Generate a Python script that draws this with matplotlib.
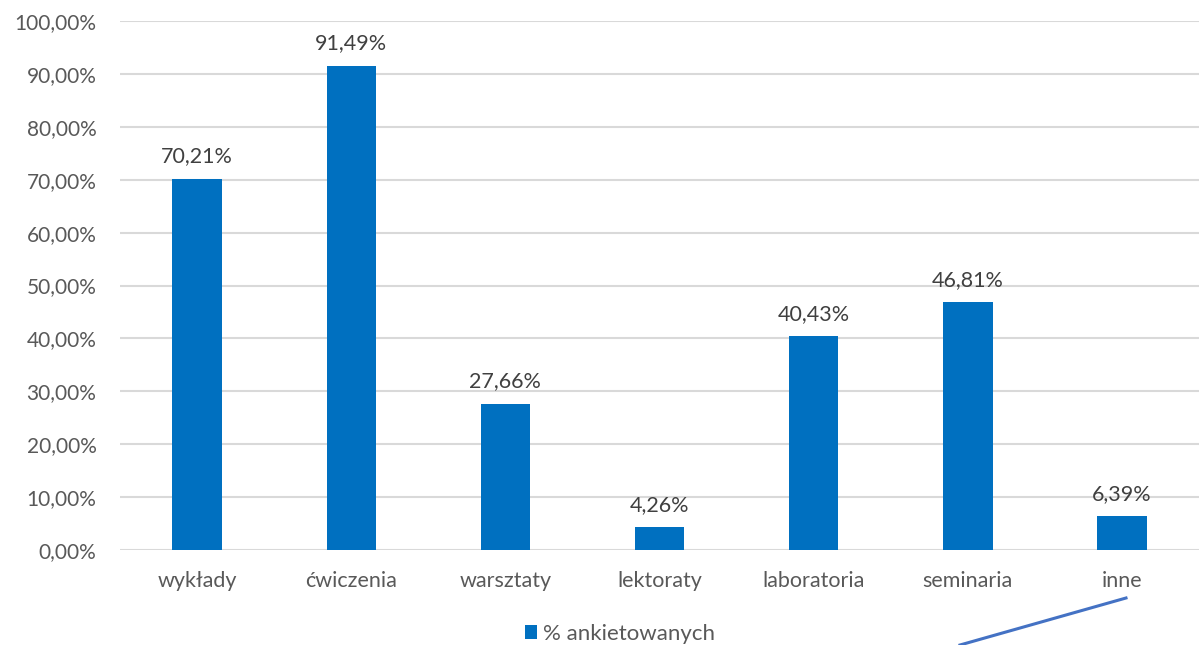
from matplotlib import pyplot as plt
from matplotlib.lines import Line2D
import numpy as np

kategorie = ['wykłady', 'ćwiczenia', 'warsztaty', 'lektoraty', 'laboratoria', 'seminaria', 'inne']
procent = [70.21, 91.49, 27.66, 4.26, 40.43, 46.81, 6.39]
yticks = np.arange(0, 101, 10)

plt.rcParams['font.family'] = ['Lato', 'DejaVu Sans']
tekst = '#595959'
niebieski = '#0070C0'

fig = plt.figure(figsize=(11.99, 6.45), dpi=100)
ax = fig.add_axes([0.1001, 0.1473, 0.9, 0.8201])

x = np.arange(len(kategorie))
bars = ax.bar(x, procent, width=0.32, color=niebieski, label='% ankietowanych', zorder=3)

for xi, v in zip(x, procent):
    ax.annotate(f'{v:.2f}%'.replace('.', ','), (xi, v), xytext=(0, 9),
                textcoords='offset points', ha='center', va='bottom',
                fontsize=15.5, color='#404040')

ax.set_xlim(-0.5, len(kategorie) - 0.5)
ax.set_ylim(0, 100)
ax.set_yticks(yticks)
ax.set_yticklabels([f'{t:.2f}%'.replace('.', ',') for t in yticks])
ax.set_xticks(x)
ax.set_xticklabels(kategorie)
ax.tick_params(axis='y', length=0, labelsize=15, labelcolor=tekst, pad=17)
ax.tick_params(axis='x', length=0, labelsize=15.5, labelcolor=tekst, pad=15)
ax.grid(axis='y', color='#d9d9d9', linewidth=1.5, zorder=0)
for s in ax.spines.values():
    s.set_visible(False)

leg = fig.legend(handles=[bars], loc='center', bbox_to_anchor=(620 / 1199, 1 - 634 / 645),
                 frameon=False, fontsize=16, handlelength=0.55, handleheight=0.55,
                 handletextpad=0.3, labelcolor=tekst, borderpad=0)

# zabłąkana linia w prawym dolnym rogu
fig.add_artist(Line2D([960 / 1199, 1126 / 1199], [1 - 645 / 645, 1 - 598 / 645],
                      transform=fig.transFigure, color='#4472C4', linewidth=2.2))

fig.savefig('out.png', dpi=100)
